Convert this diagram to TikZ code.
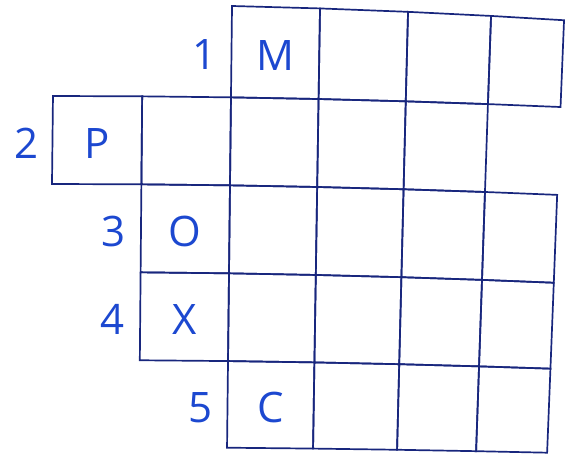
\documentclass[tikz,border=0pt]{standalone}
\usepackage{fontspec}
\setmainfont{Open Sans}
\usetikzlibrary{calc}
\definecolor{gridnavy}{RGB}{24,38,125}
\definecolor{inkblue}{RGB}{28,72,208}
\tikzset{
  cellline/.style={gridnavy,line width=1.7pt,line join=miter},
  letter/.style={inkblue,font=\fontsize{42}{42}\selectfont,inner sep=0pt},
  clue/.style={letter},
}

\begin{document}
\begin{tikzpicture}[x=1pt,y=-1pt]
  \path[use as bounding box] (0,0) rectangle (573,454);

  % grid corners (the printed page is slightly warped)
  \foreach \c in {0,...,6}{
    \foreach \r in {0,...,5}{
      \pgfmathsetmacro{\yl}{{4,96,184,272,360,447}[\r]}
      \pgfmathsetmacro{\yr}{{20,107,195,283,369,453}[\r]}
      \pgfmathsetmacro{\xt}{{54,143,232,320,408,491,564}[\c]}
      \pgfmathsetmacro{\xb}{{49,139,227,313,397,476,547}[\c]}
      \pgfmathsetmacro{\xx}{\xt+(\xb-\xt)*(\yl-5)/445}
      \pgfmathsetmacro{\tpos}{(\xx-53)/507}
      \pgfmathsetmacro{\yy}{\yl+(\yr-\yl)*\tpos*\tpos}
      \coordinate (g-\c-\r) at (\xx,\yy);
    }
  }

  \foreach \c/\r in {2/0,3/0,4/0,5/0,
                     0/1,1/1,2/1,3/1,4/1,
                     1/2,2/2,3/2,4/2,5/2,
                     1/3,2/3,3/3,4/3,5/3,
                     2/4,3/4,4/4,5/4}{
    \pgfmathtruncatemacro{\cn}{\c+1}
    \pgfmathtruncatemacro{\rn}{\r+1}
    \draw[cellline] (g-\c-\r) -- (g-\cn-\r) -- (g-\cn-\rn) -- (g-\c-\rn) -- cycle;
  }

  \node[letter] (M) at ($(g-2-0)!.5!(g-3-1)+(0,3)$) {M};
  \node[letter] (P) at ($(g-0-1)!.5!(g-1-2)+(0,3)$) {P};
  \node[letter] (O) at ($(g-1-2)!.5!(g-2-3)+(0,3)$) {O};
  \node[letter] (X) at ($(g-1-3)!.5!(g-2-4)+(0,3)$) {X};
  \node[letter] (C) at ($(g-2-4)!.5!(g-3-5)+(0,3)$) {C};

  \node[clue] (n1) at ($(g-2-0)!.5!(g-2-1)+(-27,3)$) {1};
  \node[clue] (n2) at ($(g-0-1)!.5!(g-0-2)+(-26,3)$) {2};
  \node[clue] (n3) at ($(g-1-2)!.5!(g-1-3)+(-27,3)$) {3};
  \node[clue] (n4) at ($(g-1-3)!.5!(g-1-4)+(-28,3)$) {4};
  \node[clue] (n5) at ($(g-2-4)!.5!(g-2-5)+(-27,3)$) {5};
\end{tikzpicture}
\end{document}
